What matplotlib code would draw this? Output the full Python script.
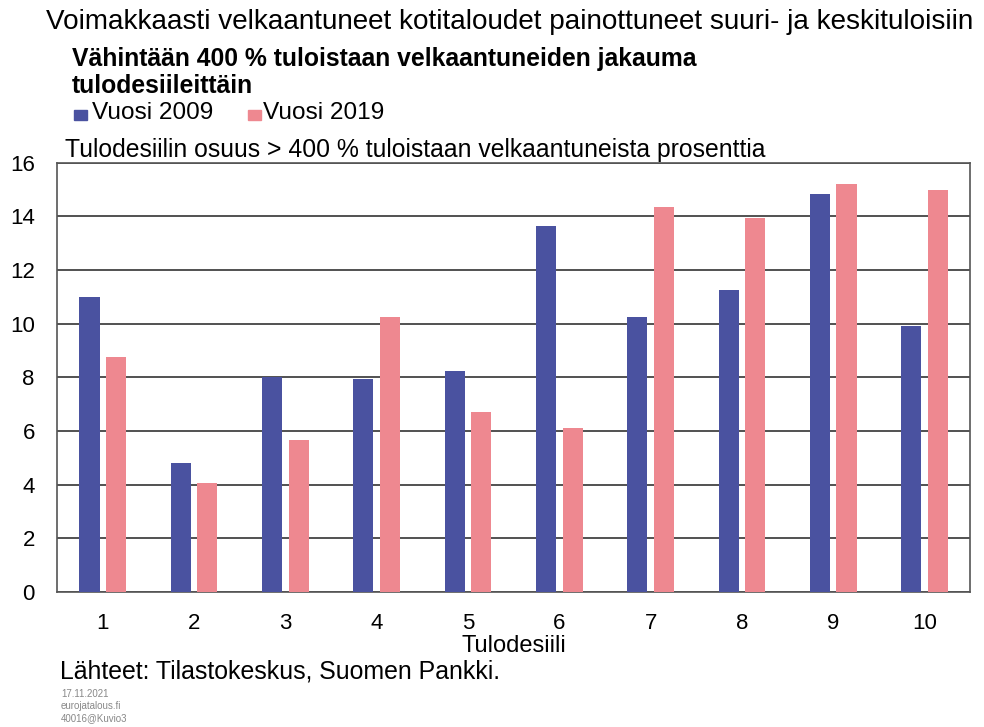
import numpy as np
import matplotlib
matplotlib.use("Agg")
import matplotlib.pyplot as plt
from matplotlib.patches import Rectangle

plt.rcParams['font.family'] = ['Liberation Sans', 'DejaVu Sans']

deciles = ["1", "2", "3", "4", "5", "6", "7", "8", "9", "10"]
y2009 = [11.0, 4.8, 8.0, 7.95, 8.25, 13.65, 10.25, 11.25, 14.85, 9.9]
y2019 = [8.75, 4.05, 5.65, 10.25, 6.7, 6.1, 14.35, 13.95, 15.2, 15.0]
yticks = [0, 2, 4, 6, 8, 10, 12, 14, 16]

blue = "#4a52a0"
pink = "#ee8890"

fig = plt.figure(figsize=(9.84, 7.27), dpi=100)
ax = fig.add_axes([0.058, 0.186, 0.928, 0.59])

x = np.arange(len(deciles))
w = 0.22
ax.bar(x - 0.145, y2009, w, color=blue, zorder=3)
ax.bar(x + 0.145, y2019, w, color=pink, zorder=3)

ax.set_xlim(-0.5, len(deciles) - 0.5)
ax.set_ylim(0, 16)
ax.set_yticks(yticks)
ax.set_xticks(x)
ax.set_xticklabels(deciles)
ax.yaxis.grid(True, color="#333333", linewidth=1.2, zorder=0)
ax.tick_params(length=0, labelsize=16)
ax.tick_params(axis="x", pad=15)
ax.tick_params(axis="y", pad=16)
for s in ax.spines.values():
    s.set_color("#555555")
    s.set_linewidth(1.2)

ax.set_xlabel("Tulodesiili", fontsize=17, labelpad=1)

fig.text(0.047, 0.970, "Voimakkaasti velkaantuneet kotitaloudet painottuneet suuri- ja keskituloisiin",
         fontsize=20.1, va="center")
fig.text(0.073, 0.919, "Vähintään 400 % tuloistaan velkaantuneiden jakauma",
         fontsize=17.8, fontweight="bold", va="center")
fig.text(0.073, 0.882, "tulodesiileittäin",
         fontsize=17.8, fontweight="bold", va="center")

fig.patches.append(Rectangle((0.075, 0.835), 0.013, 0.014, color=blue, transform=fig.transFigure))
fig.text(0.093, 0.844, "Vuosi 2009", fontsize=17.6, va="center")
fig.patches.append(Rectangle((0.252, 0.835), 0.013, 0.014, color=pink, transform=fig.transFigure))
fig.text(0.267, 0.844, "Vuosi 2019", fontsize=17.6, va="center")

fig.text(0.066, 0.794, "Tulodesiilin osuus > 400 % tuloistaan velkaantuneista prosenttia",
         fontsize=17.8, va="center")

fig.text(0.061, 0.077, "Lähteet: Tilastokeskus, Suomen Pankki.", fontsize=17.9, va="center")
fig.text(0.062, 0.046, "17.11.2021", fontsize=7, color="#888888", va="center")
fig.text(0.062, 0.029, "eurojatalous.fi", fontsize=7, color="#888888", va="center")
fig.text(0.062, 0.012, "40016@Kuvio3", fontsize=7, color="#888888", va="center")

fig.savefig("out.png", dpi=100)
